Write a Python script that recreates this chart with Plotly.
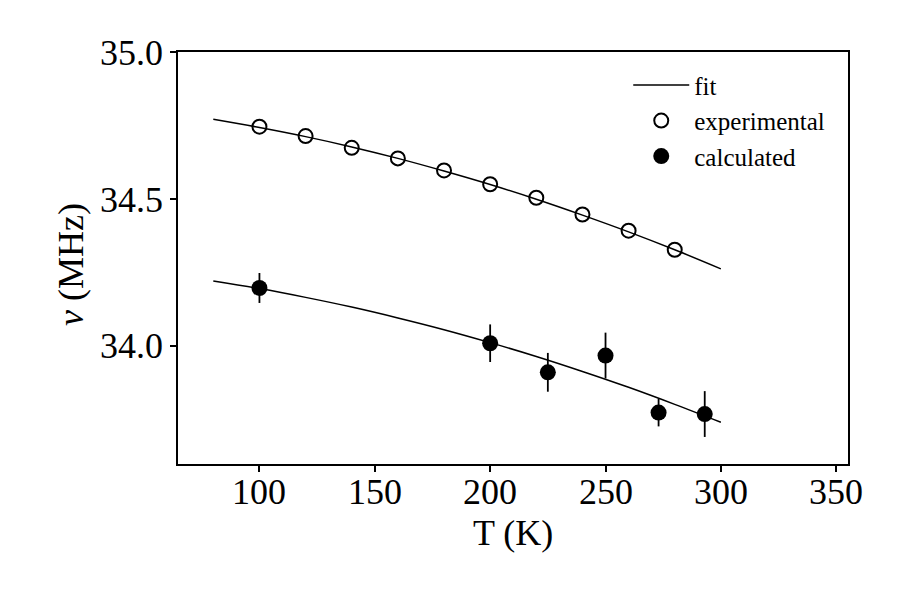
import plotly.graph_objects as go

# Experimental data
T_exp = [100, 120, 140, 160, 180, 200, 220, 240, 260, 280]
nu_exp = [34.746, 34.714, 34.674, 34.638, 34.597, 34.550, 34.504, 34.447, 34.392, 34.327]

# Calculated data with error bars
T_calc = [100, 200, 225, 250, 273, 293]
nu_calc = [34.197, 34.009, 33.910, 33.967, 33.773, 33.768]
err_calc = [0.051, 0.064, 0.066, 0.078, 0.047, 0.078]

# Fit curves
T_fit = [80, 100, 120, 140, 160, 180, 200, 220, 240, 260, 280, 300]
fit_exp = [34.771, 34.743, 34.712, 34.677, 34.638, 34.595, 34.549, 34.499, 34.445, 34.388, 34.327, 34.262]
fit_calc = [34.221, 34.195, 34.165, 34.132, 34.095, 34.055, 34.011, 33.964, 33.913, 33.859, 33.801, 33.740]

x_ticks = [100, 150, 200, 250, 300, 350]
x_ticklabels = ["100", "150", "200", "250", "300", "350"]
y_ticks = [34.0, 34.5, 35.0]
y_ticklabels = ["34.0", "34.5", "35.0"]

FONT = "Liberation Serif, Times New Roman, serif"

fig = go.Figure()
fig.add_trace(go.Scatter(x=T_fit, y=fit_exp, mode="lines", line=dict(color="black", width=1.5, shape="spline"),
                         name="fit", legendgroup="fit", legendrank=1, showlegend=True))
fig.add_trace(go.Scatter(x=T_fit, y=fit_calc, mode="lines", line=dict(color="black", width=1.5, shape="spline"),
                         name="fit", legendgroup="fit", showlegend=False))
fig.add_trace(go.Scatter(x=T_exp, y=nu_exp, mode="markers", name="experimental", legendgroup="exp", legendrank=2,
                         marker=dict(symbol="circle-open", size=14, color="black", line=dict(width=2, color="black"))))
fig.add_trace(go.Scatter(x=T_calc, y=nu_calc, mode="markers", name="calculated", legendgroup="calc", legendrank=3,
                         marker=dict(symbol="circle", size=16, color="black"),
                         error_y=dict(type="data", array=err_calc, visible=True, color="black", thickness=1.8, width=0)))

annotations = [
    dict(text=lab, x=v, xref="x", y=-0.068, yref="paper", xanchor="center", yanchor="middle",
         showarrow=False, font=dict(size=36, family=FONT))
    for v, lab in zip(x_ticks, x_ticklabels)
]
annotations += [
    dict(text="T (K)", xref="paper", yref="paper", x=0.5, y=-0.1675, xanchor="center", yanchor="middle",
         showarrow=False, font=dict(size=36, family=FONT)),
    dict(text="<i>ν</i> (MHz)", xref="paper", yref="paper", x=-0.160, y=0.485, xanchor="center",
         yanchor="middle", textangle=-90, showarrow=False, font=dict(size=36, family=FONT)),
]

fig.update_layout(
    width=900, height=600,
    paper_bgcolor="white", plot_bgcolor="white",
    margin=dict(l=178, r=52, t=52, b=136),
    font=dict(family=FONT, color="black"),
    legend=dict(x=0.672, y=0.975, xanchor="left", yanchor="top", bgcolor="rgba(0,0,0,0)",
                font=dict(size=25, family=FONT), traceorder="grouped", tracegroupgap=0, itemwidth=56),
    showlegend=True,
    annotations=annotations,
    xaxis=dict(range=[64.7, 355.1], tickvals=x_ticks, showticklabels=False,
               showline=True, linecolor="black", linewidth=1.5, mirror=True,
               ticks="outside", ticklen=6, tickwidth=1.5, tickcolor="black",
               showgrid=False, zeroline=False),
    yaxis=dict(range=[33.598, 35.0], tickvals=y_ticks, ticktext=y_ticklabels,
               showline=True, linecolor="black", linewidth=1.5, mirror=True,
               ticks="outside", ticklen=6, tickwidth=1.5, tickcolor="black",
               showgrid=False, zeroline=False, tickfont=dict(size=36, family=FONT)),
)

fig.write_html("out.html")
